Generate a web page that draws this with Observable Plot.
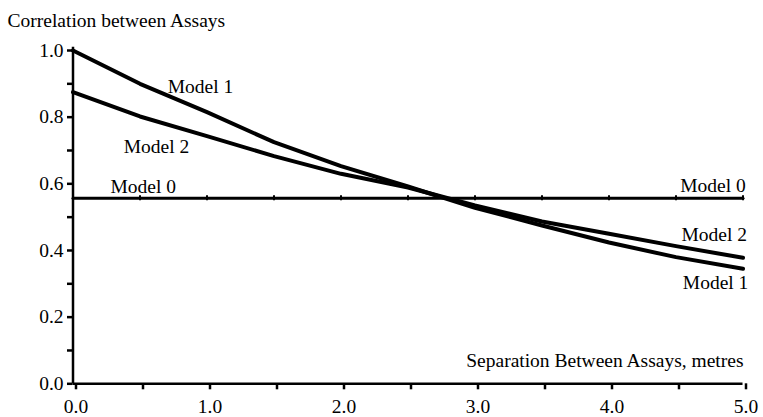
<!DOCTYPE html>
<html>
<head>
<meta charset="utf-8">
<script src="https://cdn.jsdelivr.net/npm/d3@7"></script>
<script src="https://cdn.jsdelivr.net/npm/@observablehq/plot@0.6"></script>
<style>
  html, body { margin: 0; padding: 0; background: #fff; }
  svg, svg text { font-family: "Liberation Serif", "Times New Roman", Times, serif !important; }
</style>
</head>
<body>
<div id="chart"></div>
<script>
// Separation between assays, metres
const separation = [0.0, 0.5, 1.0, 1.5, 2.0, 2.5, 3.0, 3.5, 4.0, 4.5, 5.0];
// Correlation values per model
const model0 = [0.557, 0.557, 0.557, 0.557, 0.557, 0.557, 0.557, 0.557, 0.557, 0.557, 0.557];
const model1 = [1.0, 0.90, 0.815, 0.725, 0.653, 0.592, 0.528, 0.475, 0.424, 0.38, 0.345];
const model2 = [0.875, 0.802, 0.743, 0.683, 0.63, 0.589, 0.535, 0.487, 0.45, 0.413, 0.378];

const xTicks = [0, 0.5, 1, 1.5, 2, 2.5, 3, 3.5, 4, 4.5, 5];
const yTicks = [0, 0.1, 0.2, 0.3, 0.4, 0.5, 0.6, 0.7, 0.8, 0.9, 1.0];

const titleText = "Correlation between Assays";
const xAxisText = "Separation Between Assays, metres";

const rows = (name, vals) => separation.map((x, i) => ({model: name, x, y: vals[i]}));
const data0 = rows("Model 0", model0);
const data1 = rows("Model 1", model1);
const data2 = rows("Model 2", model2);

const FONT = "'Liberation Serif', 'Times New Roman', Times, serif";
const FS = 19.5;
const T = {fontSize: FS, fontFamily: FONT};

const chart = Plot.plot({
  width: 763,
  height: 417,
  marginLeft: 72.5,
  marginRight: 20.5,
  marginTop: 50,
  marginBottom: 33.7,
  style: {fontFamily: FONT, fontSize: FS + "px", color: "black", background: "white"},
  x: {domain: [0, 5]},
  y: {domain: [0, 1]},
  marks: [
    Plot.axisX({
      ticks: xTicks, tickSize: 6, tickPadding: 9, strokeWidth: 2.5,
      tickFormat: (d, i) => (i % 2 ? "" : d.toFixed(1)),
      ...T, label: null, dx: 3
    }),
    Plot.axisY({
      ticks: yTicks, tickSize: 5.5, tickPadding: 4, strokeWidth: 2.5,
      tickFormat: (d, i) => (i % 2 ? "" : d.toFixed(1)),
      ...T, label: null
    }),
    Plot.ruleY([0], {strokeWidth: 2.5}),
    Plot.ruleX([0], {strokeWidth: 2.5, y1: 0, y2: 1.01}),
    Plot.line(data0, {x: "x", y: "y", stroke: "black", strokeWidth: 3}),
    Plot.ruleX(data0, {x: "x", y1: d => d.y - 0.0075, y2: d => d.y + 0.0075, stroke: "black", strokeWidth: 2}),
    Plot.line(data1, {x: "x", y: "y", stroke: "black", strokeWidth: 4}),
    Plot.line(data2, {x: "x", y: "y", stroke: "black", strokeWidth: 4}),
    // line labels (data coordinates)
    Plot.text(["Model 1"], {x: 0.707, y: 0.871, textAnchor: "start", lineAnchor: "bottom", ...T}),
    Plot.text(["Model 2"], {x: 0.378, y: 0.693, textAnchor: "start", lineAnchor: "bottom", ...T}),
    Plot.text(["Model 0"], {x: 0.28, y: 0.572, textAnchor: "start", lineAnchor: "bottom", ...T}),
    Plot.text(["Model 0"], {x: 5.02, y: 0.575, textAnchor: "end", lineAnchor: "bottom", ...T}),
    Plot.text(["Model 2"], {x: 5.03, y: 0.427, textAnchor: "end", lineAnchor: "bottom", ...T}),
    Plot.text(["Model 1"], {x: 5.04, y: 0.283, textAnchor: "end", lineAnchor: "bottom", ...T}),
    // title and x-axis label
    Plot.text([titleText], {frameAnchor: "top-left", dx: -65.5, dy: -24, textAnchor: "start", lineAnchor: "bottom", ...T}),
    Plot.text([xAxisText], {frameAnchor: "bottom-right", dx: 0.5, dy: -17, textAnchor: "end", lineAnchor: "bottom", ...T})
  ]
});
document.getElementById("chart").append(chart);
</script>
</body>
</html>
